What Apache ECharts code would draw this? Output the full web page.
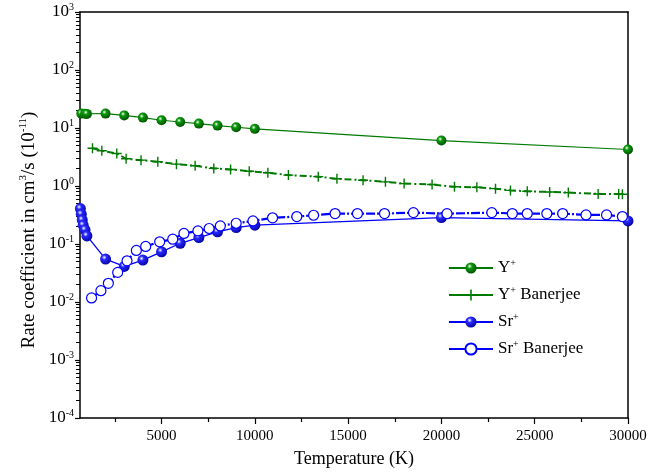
<!DOCTYPE html>
<html>
<head>
<meta charset="utf-8">
<script src="https://cdn.jsdelivr.net/npm/echarts@6/dist/echarts.min.js"></script>
<style>
  html, body { margin: 0; padding: 0; background: #fff; }
  #chart { width: 671px; height: 473px; }
</style>
</head>
<body>
<div id="chart"></div>
<script>
// temperatures (K) and rate coefficients (1e-11 cm^3/s)
const yT = [700, 900, 1000, 2000, 3000, 4000, 5000, 6000, 7000, 8000, 9000, 10000, 20000, 30000];
const yVal = [17.7, 17.6, 17.5, 17.7, 16.5, 15.1, 13.6, 12.7, 11.9, 11.0, 10.3, 9.66, 6.08, 4.26];

const ybT = [1300, 1800, 2600, 3100, 3900, 4800, 5800, 6800, 7800, 8700, 9700, 10700, 11800, 13400, 14400,
  15800, 17000, 18000, 19500, 20700, 21900, 22900, 23700, 24600, 25800, 26800, 28400, 29500, 29700];
const ybVal = [4.48, 4.05, 3.64, 2.95, 2.79, 2.62, 2.38, 2.24, 2.01, 1.93, 1.80, 1.69, 1.54, 1.45, 1.33,
  1.26, 1.18, 1.10, 1.06, 0.97, 0.95, 0.90, 0.84, 0.81, 0.79, 0.77, 0.73, 0.73, 0.72];

const srT = [650, 700, 750, 800, 900, 1000, 2000, 3000, 4000, 5000, 6000, 7000, 8000, 9000, 10000, 20000, 30000];
const srVal = [0.408, 0.326, 0.260, 0.211, 0.175, 0.138, 0.0549, 0.0411, 0.0528, 0.0733, 0.103, 0.129, 0.162,
  0.192, 0.211, 0.286, 0.250];

const sbT = [1250, 1750, 2150, 2650, 3150, 3650, 4150, 4900, 5600, 6200, 6950, 7550, 8150, 9000, 9900, 10950,
  12250, 13150, 14300, 15500, 16950, 18500, 20300, 22700, 23800, 24600, 25650, 26500, 27750, 28850, 29700];
const sbVal = [0.01175, 0.01567, 0.0210, 0.0324, 0.0513, 0.0774, 0.0907, 0.109, 0.121, 0.152, 0.168, 0.185,
  0.205, 0.228, 0.250, 0.283, 0.297, 0.313, 0.335, 0.335, 0.335, 0.348, 0.333, 0.348, 0.335, 0.335, 0.335,
  0.335, 0.317, 0.317, 0.297];

const xMajor = [5000, 10000, 15000, 20000, 25000, 30000];
const xMinor = [2500, 7500, 12500, 17500, 22500, 27500];
const xMin = 630, xMax = 30000;
const yMinExp = -4, yMaxExp = 3;

const names = ['Y+', 'Y+ Banerjee', 'Sr+', 'Sr+ Banerjee'];

// log minor tick positions (in exponent space)
let yMinor = [];
for (let e = yMinExp; e < yMaxExp; e++) {
  for (let k = 2; k <= 9; k++) yMinor.push(e + Math.log10(k));
}

const GREEN = '#007a00';
const BLUE = '#0000ff';
const FONT = 'Liberation Serif';

function ball(c, dark) {
  return {
    type: 'radial', x: 0.38, y: 0.35, r: 0.7,
    colorStops: [{ offset: 0, color: '#ffffff' }, { offset: 0.3, color: c }, { offset: 1, color: dark }]
  };
}
const plus = 'path://M4.3,0H5.7V4.3H10V5.7H5.7V10H4.3V5.7H0V4.3H4.3Z';

function zip(a, b) {
  return a.map((v, i) => [v, b[i]]);
}

let chart = echarts.init(document.getElementById('chart'));

let option = {
  animation: false,
  backgroundColor: '#fff',
  textStyle: { fontFamily: FONT },
  grid: { left: 80, right: 43, top: 12, bottom: 53.5 },
  legend: {
    orient: 'vertical',
    left: 443,
    top: 253,
    itemWidth: 44,
    itemHeight: 14,
    itemGap: 8.5,
    lineStyle: { type: 'solid' },
    data: names,
    formatter: function (name) {
      let parts = name.split('+');
      return '{n|' + parts[0] + '}{s|+}{n|' + parts[1] + '}';
    },
    textStyle: {
      fontFamily: FONT,
      color: '#000',
      rich: {
        n: { fontFamily: FONT, fontSize: 17, color: '#000', lineHeight: 20 },
        s: { fontFamily: FONT, fontSize: 10, color: '#000', verticalAlign: 'top', lineHeight: 12 }
      }
    }
  },
  xAxis: [
    {
      type: 'value', min: xMin, max: xMax, position: 'bottom',
      axisLine: { show: true, onZero: false, lineStyle: { color: '#000', width: 1.5 } },
      axisTick: { show: true, inside: false, length: 6, customValues: xMajor, lineStyle: { color: '#000', width: 1.2 } },
      axisLabel: {
        show: true, customValues: xMajor, margin: 11, fontFamily: FONT, fontSize: 15, color: '#000',
        formatter: function (v) { return String(v); }
      },
      splitLine: { show: false },
      name: 'Temperature (K)',
      nameLocation: 'middle',
      nameGap: 32,
      nameTextStyle: { fontFamily: FONT, fontSize: 18, color: '#000' }
    },
    {
      type: 'value', min: xMin, max: xMax, position: 'bottom',
      axisLine: { show: false, onZero: false },
      axisTick: { show: true, length: 4, customValues: xMinor, lineStyle: { color: '#000', width: 1.2 } },
      axisLabel: { show: false },
      splitLine: { show: false }
    },
    {
      type: 'value', min: xMin, max: xMax, position: 'top',
      axisLine: { show: true, onZero: false, lineStyle: { color: '#000', width: 1.5 } },
      axisTick: { show: false }, axisLabel: { show: false }, splitLine: { show: false }
    }
  ],
  yAxis: [
    {
      type: 'log', logBase: 10, min: Math.pow(10, yMinExp), max: Math.pow(10, yMaxExp), splitNumber: 7,
      position: 'left',
      axisLine: { show: true, onZero: false, lineStyle: { color: '#000', width: 1.5 } },
      axisTick: { show: true, length: 5, lineStyle: { color: '#000', width: 1.2 } },
      axisLabel: {
        show: true, margin: 6,
        formatter: function (v) {
          return '{b|10}{s|' + Math.round(Math.log10(v)) + '}';
        },
        rich: {
          b: { fontFamily: FONT, fontSize: 17, color: '#000', lineHeight: 20 },
          s: { fontFamily: FONT, fontSize: 10, color: '#000', verticalAlign: 'top', lineHeight: 12 }
        }
      },
      splitLine: { show: false }
    },
    {
      type: 'value', min: yMinExp, max: yMaxExp, position: 'left',
      axisLine: { show: false, onZero: false },
      axisTick: { show: true, length: 4, customValues: yMinor, lineStyle: { color: '#000', width: 1 } },
      axisLabel: { show: false },
      splitLine: { show: false }
    },
    {
      type: 'value', min: yMinExp, max: yMaxExp, position: 'right',
      axisLine: { show: true, onZero: false, lineStyle: { color: '#000', width: 1.5 } },
      axisTick: { show: false }, axisLabel: { show: false }, splitLine: { show: false }
    }
  ],
  graphic: [
    {
      type: 'text',
      x: 29, y: 230,
      rotation: Math.PI / 2,
      style: {
        text: '{n|Rate coefficient in cm}{s|3}{n|/s (10}{s|-11}{n|)}',
        align: 'center',
        verticalAlign: 'middle',
        rich: {
          n: { fontFamily: FONT, fontSize: 19, fill: '#000', lineHeight: 22 },
          s: { fontFamily: FONT, fontSize: 11, fill: '#000', verticalAlign: 'top', lineHeight: 12 }
        }
      }
    }
  ],
  series: [
    {
      name: names[0], type: 'line', xAxisIndex: 0, yAxisIndex: 0,
      data: zip(yT, yVal),
      symbol: 'circle', symbolSize: 10,
      itemStyle: { color: ball('#0a9a0a', '#004a00'), borderWidth: 0 },
      lineStyle: { color: GREEN, width: 1.2 },
      color: GREEN
    },
    {
      name: names[1], type: 'line', xAxisIndex: 0, yAxisIndex: 0,
      data: zip(ybT, ybVal),
      symbol: plus, symbolSize: 10,
      itemStyle: { color: GREEN, borderWidth: 0 },
      lineStyle: { color: GREEN, width: 2, type: [7, 3, 2, 3] },
      color: GREEN
    },
    {
      name: names[2], type: 'line', xAxisIndex: 0, yAxisIndex: 0,
      data: zip(srT, srVal),
      symbol: 'circle', symbolSize: 11,
      itemStyle: { color: ball('#2a2aff', '#0000a0'), borderWidth: 0 },
      lineStyle: { color: BLUE, width: 1.3 },
      color: BLUE
    },
    {
      name: names[3], type: 'line', xAxisIndex: 0, yAxisIndex: 0,
      data: zip(sbT, sbVal),
      symbol: 'circle', symbolSize: 10,
      itemStyle: { color: '#fff', borderColor: BLUE, borderWidth: 1.2 },
      lineStyle: { color: BLUE, width: 2.2, type: [9, 2, 2, 2] },
      color: BLUE
    }
  ]
};

chart.setOption(option);
</script>
</body>
</html>
